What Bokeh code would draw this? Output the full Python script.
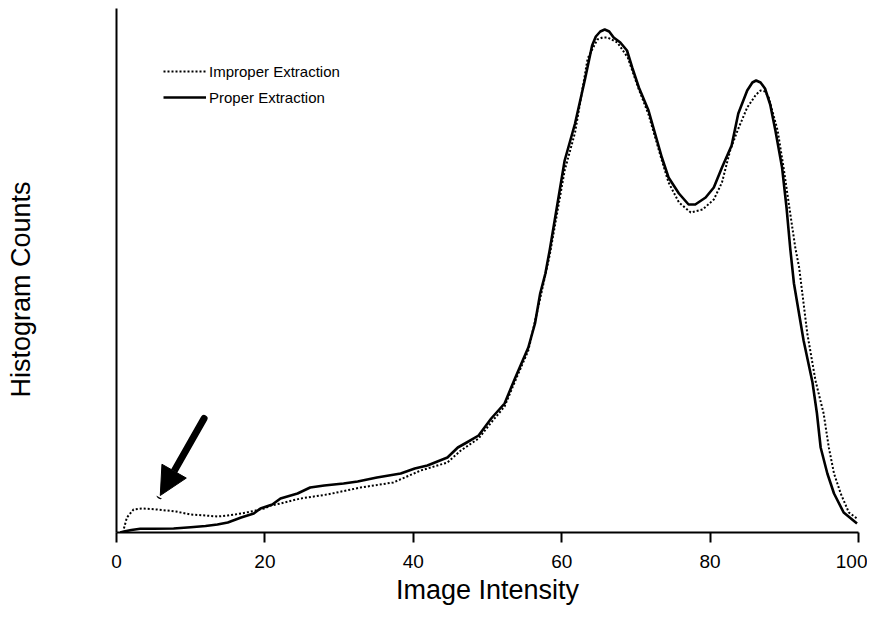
import math
from bokeh.plotting import figure
from bokeh.models import Range1d, FixedTicker, Legend, LegendItem, Title, Arrow, NormalHead
from bokeh.embed import file_html
from bokeh.resources import INLINE

# Proper extraction (solid)
proper_x = [0.5, 1, 2, 3.2, 5, 7.7, 10, 12, 13.6, 15, 16.8, 18.5, 19.4, 21, 22.1, 24.4, 26.1,
            28, 30.6, 32.5, 35.1, 38.3, 40.2, 41.9, 44.6, 46, 47.2, 48.8, 50.5, 52.3, 53.7,
            55.5, 56.4, 57.1, 57.8, 58.4, 60.4, 61.8, 63.1, 64.1, 64.6, 65.2, 65.8, 66.4, 67,
            67.9, 68.8, 69.5, 70.4, 71.7, 73.5, 74.4, 75.8, 77.1, 78, 79.4, 80.5, 81.6, 82.9,
            83.8, 85, 85.7, 86.2, 86.8, 87.4, 88.1, 88.8, 89.7, 90.3, 90.8, 91.3, 92.6, 93.8,
            94.4, 94.9, 95.8, 96.7, 98.0, 99.8]
proper_y = [0, 1, 2.5, 3.7, 3.8, 4, 5.3, 6.5, 8, 10, 15, 19, 24, 28, 34, 39, 45,
            47, 49, 51, 55, 59, 64, 67, 75, 85, 90, 97, 114, 129, 154,
            185, 209, 239, 259, 283, 372, 409, 452, 487, 496, 501, 503, 501, 495,
            490, 482, 465, 445, 422, 375, 355, 339, 328, 328, 335, 345, 365, 387,
            419, 442, 450, 452, 450, 444, 428, 402, 365, 325, 284, 249, 192, 150,
            119, 85, 59, 39, 20, 9]

# Improper extraction (dotted)
improper_x = [1, 1.4, 2.3, 3.5, 5.5, 8, 10, 12, 13.6, 15, 16.8, 18.5, 19.9, 20.8, 22.1,
              24.8, 28.4, 32.9, 37.3, 41, 44.6, 46.4, 48.8, 50.5, 52.3, 53.7, 55.5, 57.1,
              58.4, 60.4, 61.8, 63.5, 64.8, 65.5, 66.2, 67.5, 68.9, 70.3, 71.7, 73.5, 74.4,
              75.8, 77.4, 79, 80.5, 81.6, 82.7, 83.7, 85, 86.2, 86.8, 87.4, 87.9, 89.1, 89.9,
              90.8, 91.5, 92, 93.1, 94.2, 95.3, 96.0, 96.7, 97.6, 98.7, 99.8]
improper_y = [4, 15, 23, 24, 23, 21, 18, 17, 16, 17, 19, 21.5, 24, 27, 29,
              34, 38, 45, 50, 62, 70, 82, 94, 110, 126, 151, 182, 234,
              278, 362, 400, 474, 493, 495, 495, 490, 475, 445, 418, 372, 350,
              330, 320, 323, 333, 350, 382, 402, 425, 438, 442, 441, 435, 402, 365,
              319, 284, 265, 199, 152, 119, 85, 59, 39, 20, 14]

# Arrow pointing to the low-intensity artefact (tail, tip)
arrow_tail = (11.8, 114)
arrow_tip = (5.9, 37)

tick_values = [0, 20, 40, 60, 80, 100]

FONT = "Liberation Sans"

p = figure(width=867, height=610, output_backend="svg", toolbar_location=None,
           x_range=Range1d(0, 100), y_range=Range1d(0, 524),
           min_border_left=116, min_border_right=9, min_border_top=8, min_border_bottom=78)
p.outline_line_color = None
p.xgrid.visible = False
p.ygrid.visible = False
p.background_fill_color = "white"

r_imp = p.line(improper_x, improper_y, line_color="black", line_width=2, line_dash="2 2")
r_pro = p.line(proper_x, proper_y, line_color="black", line_width=2.6, line_join="round")

# axes
p.xaxis.ticker = FixedTicker(ticks=tick_values)
p.xaxis.axis_line_width = 2
p.xaxis.major_tick_line_width = 2
p.xaxis.major_tick_out = 10
p.xaxis.major_tick_in = 0
p.xaxis.minor_tick_line_color = None
p.xaxis.major_label_text_font = FONT
p.xaxis.major_label_text_font_size = "19px"
p.xaxis.major_label_text_color = "black"
p.xaxis.major_label_standoff = 12
p.xaxis.axis_label = "Image Intensity"
p.xaxis.axis_label_text_font = FONT
p.xaxis.axis_label_text_font_size = "27px"
p.xaxis.axis_label_text_font_style = "normal"
p.xaxis.axis_label_text_color = "black"
p.xaxis.axis_label_standoff = 4

# y axis: bare line; a blank label only reserves room so the title sits far left
p.yaxis.ticker = FixedTicker(ticks=[])
p.yaxis.axis_line_width = 2
p.yaxis.minor_tick_line_color = None
p.yaxis.major_tick_line_color = None
p.yaxis.axis_label = " "
p.yaxis.axis_label_text_font_size = "10px"
p.yaxis.axis_label_standoff = 66

ytitle = Title(text="Histogram Counts", align="left", offset=135, vertical_align="middle",
               text_font=FONT, text_font_size="27px", text_font_style="normal",
               text_color="black", standoff=0)
p.add_layout(ytitle, "left")

arrow = Arrow(x_start=arrow_tail[0], y_start=arrow_tail[1], x_end=arrow_tip[0], y_end=arrow_tip[1],
              line_width=7, line_cap="round", line_color="black",
              end=NormalHead(size=28, fill_color="black", line_color="black", line_width=1))
p.add_layout(arrow)

legend = Legend(items=[LegendItem(label="Improper Extraction", renderers=[r_imp]),
                       LegendItem(label="Proper Extraction", renderers=[r_pro])],
                location=(47, 425), padding=0, margin=0, spacing=6,
                glyph_width=43, glyph_height=20, label_height=20, label_standoff=3,
                label_text_font=FONT, label_text_font_size="15px", label_text_color="black",
                border_line_color=None, background_fill_alpha=0)
p.add_layout(legend)

open("out.html", "w").write(file_html(p, INLINE))
